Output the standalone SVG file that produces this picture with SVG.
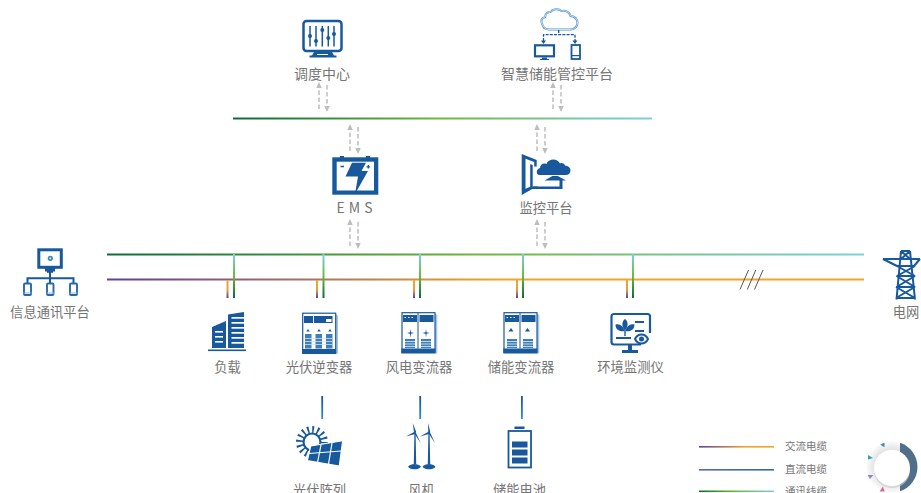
<svg xmlns="http://www.w3.org/2000/svg" width="921" height="493" viewBox="0 0 921 493">
<style>
text{font-family:"Noto Sans CJK SC","Noto Sans",sans-serif;font-size:13.3px;fill:#757575;text-anchor:middle}
.lg{font-size:10.5px;text-anchor:start}
.f{fill:#17599c}
.w{fill:#fff}
.s{fill:none;stroke:#17599c;stroke-width:3}
.t{fill:none;stroke:#17599c;stroke-width:1.500}
.d{fill:none;stroke:#bdbdbd;stroke-width:1.500;stroke-dasharray:4.500 2.500}
</style>
<defs>
<linearGradient id="comm" gradientUnits="userSpaceOnUse" x1="107" y1="0" x2="864" y2="0"><stop offset="0" stop-color="#0f6a3c"/><stop offset=".5" stop-color="#6fb93f"/><stop offset="1" stop-color="#7fcfdc"/></linearGradient>
<linearGradient id="commT" gradientUnits="userSpaceOnUse" x1="233" y1="0" x2="652" y2="0"><stop offset="0" stop-color="#0f6a3c"/><stop offset=".5" stop-color="#6fb93f"/><stop offset="1" stop-color="#7fcfdc"/></linearGradient>
<linearGradient id="pow" gradientUnits="userSpaceOnUse" x1="107" y1="0" x2="500" y2="0"><stop offset="0" stop-color="#5e3f9a"/><stop offset="1" stop-color="#f0a428"/></linearGradient>
<linearGradient id="vc" x1="0" y1="0" x2="0" y2="1"><stop offset="0" stop-color="#7fcfdc"/><stop offset=".5" stop-color="#6fb93f"/><stop offset="1" stop-color="#0f6a3c"/></linearGradient>
<linearGradient id="vp" x1="0" y1="0" x2="0" y2="1"><stop offset="0" stop-color="#f0a428"/><stop offset=".55" stop-color="#e6a040"/><stop offset="1" stop-color="#5e3f9a"/></linearGradient>
<linearGradient id="vb" x1="0" y1="0" x2="0" y2="1"><stop offset="0" stop-color="#1c4f94"/><stop offset="1" stop-color="#2f8fd0"/></linearGradient>
<linearGradient id="lac" x1="0" y1="0" x2="1" y2="0"><stop offset="0" stop-color="#5e3f9a"/><stop offset=".6" stop-color="#f0a428"/><stop offset="1" stop-color="#f0a428"/></linearGradient>
<linearGradient id="ldc" x1="0" y1="0" x2="1" y2="0"><stop offset="0" stop-color="#5a68b0"/><stop offset="1" stop-color="#2f6fa0"/></linearGradient>
<linearGradient id="lcm" x1="0" y1="0" x2="1" y2="0"><stop offset="0" stop-color="#0f6a3c"/><stop offset=".5" stop-color="#6fb93f"/><stop offset="1" stop-color="#7fcfdc"/></linearGradient>
<radialGradient id="ring" cx=".5" cy=".5" r=".5"><stop offset=".7" stop-color="#e4e4e4"/><stop offset="1" stop-color="#fafafa"/></radialGradient>
<marker id="ah" markerWidth="6" markerHeight="6" refX="3" refY="3" orient="auto" markerUnits="userSpaceOnUse"><path d="M0 0.200L6 3L0 5.800z" fill="#bdbdbd"/></marker>
<g id="cab">
<path d="M33.500 1.500L36 3V41L33.500 42z" fill="#a9c6e2"/>
<rect x=".7" y=".7" width="33" height="39.500" fill="#fff" stroke="#17599c" stroke-width="1.200"/>
<rect x="0" y="36.500" width="34" height="5" class="f"/>
</g>
</defs>

<g id="connectors">
<path d="M233 118.500H652" stroke="url(#commT)" stroke-width="2" fill="none"/>
<path d="M107 254.500H864" stroke="url(#comm)" stroke-width="2" fill="none"/>
<path d="M107 279.500H864" stroke="url(#pow)" stroke-width="2" fill="none"/>
<g fill="url(#vc)">
<rect x="233" y="254" width="2" height="44"/><rect x="322.500" y="254" width="2" height="44"/><rect x="419" y="254" width="2" height="44"/><rect x="522" y="254" width="2" height="44"/><rect x="632" y="254" width="2" height="44"/>
</g>
<g fill="url(#vp)">
<rect x="226.500" y="280" width="2" height="18"/><rect x="316" y="280" width="2" height="18"/><rect x="413" y="280" width="2" height="18"/><rect x="516" y="280" width="2" height="18"/><rect x="626" y="280" width="2" height="18"/>
</g>
<g class="arrows">
<path class="d" d="M319 109V85" marker-end="url(#ah)"/><path class="d" d="M327 85V109" marker-end="url(#ah)"/>
<path class="d" d="M553 109V85" marker-end="url(#ah)"/><path class="d" d="M561 85V109" marker-end="url(#ah)"/>
<path class="d" d="M350 151V127" marker-end="url(#ah)"/><path class="d" d="M358 127V151" marker-end="url(#ah)"/>
<path class="d" d="M537 151V127" marker-end="url(#ah)"/><path class="d" d="M545 127V151" marker-end="url(#ah)"/>
<path class="d" d="M350 246V222" marker-end="url(#ah)"/><path class="d" d="M358 222V246" marker-end="url(#ah)"/>
<path class="d" d="M537 246V222" marker-end="url(#ah)"/><path class="d" d="M545 222V246" marker-end="url(#ah)"/>
</g>
<path d="M740 289.500L748.500 270M747.300 289.500L755.800 270M754.500 289.500L763 270" stroke="#555" stroke-width="1" fill="none"/>
<g fill="url(#vb)"><rect x="321.300" y="396" width="1.800" height="23"/><rect x="419.300" y="396" width="1.800" height="23"/><rect x="521" y="396" width="1.800" height="23"/></g>
</g>

<g id="dispatch">
<rect x="303.500" y="21" width="38" height="30" rx="3" style="fill:none;stroke:#17599c;stroke-width:2.500"/>
<path class="f" d="M314 52h18l2 3.500h2.500v2h-27v-2h2.500z"/>
<rect x="317" y="54" width="11" height="1" class="w"/>
<path class="t" d="M310 26V46.500M316 26V46.500M322.300 26V46.500M328.300 26V46.500M334 26V46.500"/>
<g class="f"><circle cx="310" cy="36" r="2"/><circle cx="316" cy="41" r="2"/><circle cx="322.300" cy="30" r="2"/><circle cx="328.300" cy="38" r="2"/><circle cx="334" cy="34" r="2"/></g>
<text x="322" y="79" style="font-size:14px">调度中心</text>
</g>

<g id="smart-platform">
<path d="M549 29.500h21.500c4 0 7-3 7-6.500 0-4-3-7-7-7-1-4-5-6-9-5-3-3-9-2-11 1-3 0-5 2-5.500 5-3 1-5 3-2.500 8 1 3 3.500 4.500 6.500 4.500z" fill="#fff" stroke="#4c93c9" stroke-width="2"/>
<path d="M549 29.500h21.500c4 0 7-3 7-6.500 0-4-3-7-7-7-1-4-5-6-9-5-3-3-9-2-11 1-3 0-5 2-5.500 5-3 1-5 3-2.500 8 1 3 3.500 4.500 6.500 4.500z" fill="none" stroke="#fff" stroke-width=".7"/>
<path d="M558.700 30V34.700M543.500 41V34.700H575V41" fill="none" stroke="#17599c" stroke-width="1.300" stroke-dasharray="3 1.200"/>
<path class="f" d="M541 40.500h5l-2.500 3.500zM572.500 40.500h5l-2.500 3.500z"/>
<rect x="535" y="45.300" width="19" height="11" style="fill:none;stroke:#17599c;stroke-width:2.200"/>
<path class="f" d="M542 57.500h5v1.500h2v1h-9v-1h2z"/>
<rect x="571.500" y="45" width="8.500" height="14" style="fill:none;stroke:#17599c;stroke-width:1.800"/>
<rect x="571" y="55" width="9.500" height="1.200" class="f"/>
<text x="557" y="79" style="font-size:14px">智慧储能管控平台</text>
</g>

<g id="ems">
<rect x="332.300" y="157.300" width="46" height="37.400" class="f"/>
<rect x="336.700" y="161.700" width="37.300" height="28.800" class="w"/>
<rect x="340" y="156" width="4" height="2" class="f"/><rect x="366" y="156" width="4" height="2" class="f"/>
<path class="f" d="M352 162.700h14l-4.500 8.300h6.500l-13 23 3-17.500h-12.500z"/>
<path d="M340.500 166.500h3.500M366.500 166.800h3.600M368.300 165v3.600" stroke="#17599c" stroke-width="1.300" fill="none"/>
<text x="356.500" y="213" style="letter-spacing:4px;font-size:14px">EMS</text>
</g>

<g id="monitor-platform">
<path class="f" d="M521.700 154l15 6v6.500h-2.500v-4.400l-8.700-3.400v30l4.700-2V164l2.500 1v21.500h5v2.500h-5.500l-10.500 6z"/>
<path class="f" d="M539 175c-3.500-.5-2.500-6.500 1-7 0-3.500 3.500-5.500 6.500-4 1.500-5 10.500-6.500 13.500-.5 1-1 4-.5 5 2 3 .5 5.500 2 5.500 4.800 0 3-2 4.700-4.500 4.700z"/>
<path class="f" d="M555 174.500l11 6h-3.500v8.500h-29v-2.500h26v-6h-15z"/>
<path d="M537 175.500h32" stroke="#fff" stroke-width="1"/>
<text x="546" y="213">监控平台</text>
</g>

<g id="info-platform">
<rect x="38.800" y="249.800" width="22.500" height="17.500" class="s"/>
<rect x="45" y="268" width="10" height="3.500" class="f"/><rect x="47" y="271" width="6" height="1.800" class="f"/>
<circle cx="50.300" cy="258.300" r="2.600" fill="#3b86c4"/><circle cx="50.300" cy="258.300" r=".9" fill="#fff"/>
<path d="M50 272V278.200M27.500 283.500V278.200H73.500V283.500M50 278.200V283.500" fill="none" stroke="#17599c" stroke-width="2"/>
<g fill="#fff" stroke="#2869a8" stroke-width="1.900"><rect x="24" y="283.500" width="7" height="11.500" rx="1"/><rect x="47" y="283.500" width="6.500" height="11.500" rx="1"/><rect x="70" y="283.500" width="7" height="11.500" rx="1"/></g>
<rect x="23.500" y="292.500" width="8" height="1" fill="#8fb6d8"/><rect x="46.500" y="292.500" width="7.500" height="1" fill="#8fb6d8"/><rect x="69.500" y="292.500" width="8" height="1" fill="#8fb6d8"/>
<text x="50" y="317">信息通讯平台</text>
</g>

<g id="load">
<path class="f" d="M228 314.500l16-2.500V348h-16zM212 327l14-6v27h-14z"/>
<rect x="208" y="349.500" width="38" height="1.600" class="f"/>
<g class="w"><rect x="215" y="331" width="8" height="1.600"/><rect x="215" y="336" width="8" height="1.600"/><rect x="215" y="341" width="8" height="1.600"/>
<rect x="231.500" y="317" width="12.500" height="1.700"/><rect x="231.500" y="322" width="12.500" height="1.700"/><rect x="231.500" y="327" width="12.500" height="1.700"/><rect x="231.500" y="332" width="12.500" height="1.700"/><rect x="231.500" y="337" width="12.500" height="1.700"/><rect x="231.500" y="342" width="12.500" height="1.700"/></g>
<text x="227.500" y="372">负载</text>
</g>

<g id="pv-inverter">
<use href="#cab" x="302" y="312.500"/>
<rect x="304" y="316" width="9" height="7" class="f"/><rect x="314" y="316" width="18.500" height="7" class="f"/><rect x="326" y="319" width="5.500" height="3" class="w"/>
<path class="f" d="M308 329l1.800 2.500h-3.600zM319 329l1.800 2.500h-3.600zM330 329l1.800 2.500h-3.600z"/>
<g fill="#3f7fb8"><rect x="305" y="334" width="6.500" height="14.500"/><rect x="315.500" y="334" width="6.500" height="14.500"/><rect x="326" y="334" width="6.500" height="14.500"/></g>
<path d="M305 338.500h27.500M305 341.500h27.500M305 344.500h27.500" stroke="#cfe0f0" stroke-width=".8"/>
<text x="319" y="372">光伏逆变器</text>
</g>

<g id="wind-converter">
<use href="#cab" x="401.300" y="312"/>
<path d="M418 312.500v36" stroke="#17599c" stroke-width="1"/>
<rect x="403" y="315" width="14" height="7" class="f"/><rect x="419.500" y="315" width="14" height="7" class="f"/>
<path d="M404.500 317.500h1.500M408 317.500h1.500M411.500 317.500h1.500" stroke="#fff" stroke-width="1"/>
<path class="f" d="M410.500 329l.5 3.200 3 .8-3 .8-.5 4-.5-4-3-.8 3-.8zM426 329l.5 3.200 3 .8-3 .8-.5 4-.5-4-3-.8 3-.8z"/>
<g fill="#3f7fb8"><rect x="405" y="339" width="10" height="9"/><rect x="421" y="339" width="10" height="9"/></g>
<path d="M405 341.500h10M405 344h10M405 346.500h10M421 341.500h10M421 344h10M421 346.500h10" stroke="#fff" stroke-width=".7"/>
<text x="419" y="372">风电变流器</text>
</g>

<g id="storage-converter">
<use href="#cab" x="503.300" y="312"/>
<path d="M520 312.500v36" stroke="#17599c" stroke-width="1"/>
<rect x="505" y="315" width="14" height="7" class="f"/><rect x="521.500" y="315" width="14" height="7" class="f"/>
<path d="M506.500 317.500h1.500M510 317.500h1.500M513.500 317.500h1.500" stroke="#fff" stroke-width="1"/>
<path class="f" d="M511 328l2.500 3.500h-5zM527.500 328l2.500 3.500h-5z"/>
<g fill="#3f7fb8"><rect x="507" y="339" width="10" height="9"/><rect x="523" y="339" width="10" height="9"/></g>
<path d="M507 341.500h10M507 344h10M507 346.500h10M523 341.500h10M523 344h10M523 346.500h10" stroke="#fff" stroke-width=".7"/>
<text x="521" y="372">储能变流器</text>
</g>

<g id="env-monitor">
<path d="M641 344.500H614a2.500 2.500 0 0 1-2.500-2.500V316.500a2.500 2.500 0 0 1 2.500-2.500h33.500a2.500 2.500 0 0 1 2.500 2.500V333" fill="none" stroke="#17599c" stroke-width="2.200"/>
<path class="f" d="M628 345h4v5h6v3h-16v-3h6z"/>
<path class="f" d="M625 319c3.500 2.500 3.500 8 0 11-3.500-3-3.500-8.500 0-11zM615.500 324.500c4.500-1.500 8 2 9 6.500-4.500 1-9-1-9-6.500zM634.500 324.500c-4.500-1.500-8 2-9 6.500 4.500 1 9-1 9-6.500z"/>
<rect x="624.300" y="329" width="1.400" height="7" class="f"/>
<rect x="616" y="337" width="15" height="2" class="f"/>
<rect x="635" y="321" width="9" height="2" class="f"/><rect x="635" y="330" width="9" height="2" class="f"/>
<path d="M635 339c3-6 10-6 13 0-3 6-10 6-13 0z" fill="#fff" stroke="#17599c" stroke-width="2"/>
<circle cx="641.500" cy="339" r="2.500" class="f"/>
<text x="630.500" y="372">环境监测仪</text>
</g>

<g id="grid">
<path d="M883 259h37M883 259l14 7M920 259l-6 7M901 251h9M901 251l-4.500 48.500M910 251l5 48.500M897 266h18M896.500 276h18.500M896 287h19M896 298h19M897 266l18 10M915 266l-18 10M896.500 276l18.500 11M915 276l-18.500 11M896 287l19 11M915 287l-19 11M901 251l9 8M910 251l-9 8" fill="none" stroke="#17599c" stroke-width="2"/>
<text x="906" y="317">电网</text>
</g>

<g id="pv-array">
<circle cx="312" cy="442" r="12" fill="none" stroke="#17599c" stroke-width="8" stroke-dasharray="1.700 3"/>
<circle cx="312" cy="442" r="8.500" fill="#fff" stroke="#17599c" stroke-width="2.200"/>
<path class="f" d="M310.700 446l32-5.300-3.400 25.300-32-5.300z" stroke="#fff" stroke-width="1.200"/>
<path d="M321 445l-3.500 17.500M332 443l-3.500 21M309 453.500l32-2.500" stroke="#fff" stroke-width="1.200" fill="none"/>
<text x="319.500" y="495">光伏阵列</text>
</g>

<g id="wind-turbine">
<g class="f">
<path d="M414.400 433h1.200l.6 31h-2.400zM428.400 433h1.200l.6 31h-2.400z"/>
<path d="M412.700 423l3.500 9-2 1.500zM406 436.500l8-4.500 1 2zM420.700 443.300l-6.500-10 1.500-1zM428 423l2.300 9-2 1.500zM420 436.500l8-4.500 1 2zM435 443.300l-6.500-10 1.500-1z"/>
</g>
<path class="f" d="M408 466.700c3-3.500 10-3.500 13 0-3 3.500-10 3.500-13 0zM422.500 466.700c3-3.500 10-3.500 13 0-3 3.500-10 3.500-13 0z"/>
<text x="421.500" y="495">风机</text>
</g>

<g id="battery">
<rect x="508.500" y="431" width="22.500" height="36.500" fill="none" stroke="#17599c" stroke-width="1.800"/>
<rect x="514.500" y="426.500" width="10" height="2.500" class="f"/>
<rect x="512" y="441.500" width="15.500" height="6" class="f"/><rect x="512" y="449.500" width="15.500" height="6" class="f"/><rect x="512" y="457.500" width="15.500" height="6" class="f"/>
<text x="519.500" y="495">储能电池</text>
</g>

<g id="legend">
<rect x="699" y="446" width="75" height="1.600" fill="url(#lac)"/>
<rect x="699" y="469" width="75" height="1.600" fill="url(#ldc)"/>
<rect x="699" y="490.500" width="75" height="1.600" fill="url(#lcm)"/>
<text class="lg" x="785" y="450">交流电缆</text>
<text class="lg" x="785" y="473">直流电缆</text>
<text class="lg" x="785" y="494.500">通讯线缆</text>
</g>

<g id="dial">
<circle cx="892" cy="467" r="25.500" fill="url(#ring)"/>
<path d="M900 442.800A25.500 25.500 0 0 1 900 491.200z" fill="#4f7088"/>
<circle cx="892" cy="470" r="18" fill="#cfcfcf" opacity=".7"/>
<circle cx="892" cy="468" r="18" fill="#fff"/>
<path d="M884.500 442.500v4.800l-4.300-2.500z" fill="#3a8fb0"/><path d="M868 455l5 3-5 1.500z" fill="#3a9fb0"/><path d="M867.500 475h6l-3.500 4z" fill="#8a8ac8"/><path d="M883 486.500l1.700 5h-5.200z" fill="#e0688a"/>
</g>
</svg>
